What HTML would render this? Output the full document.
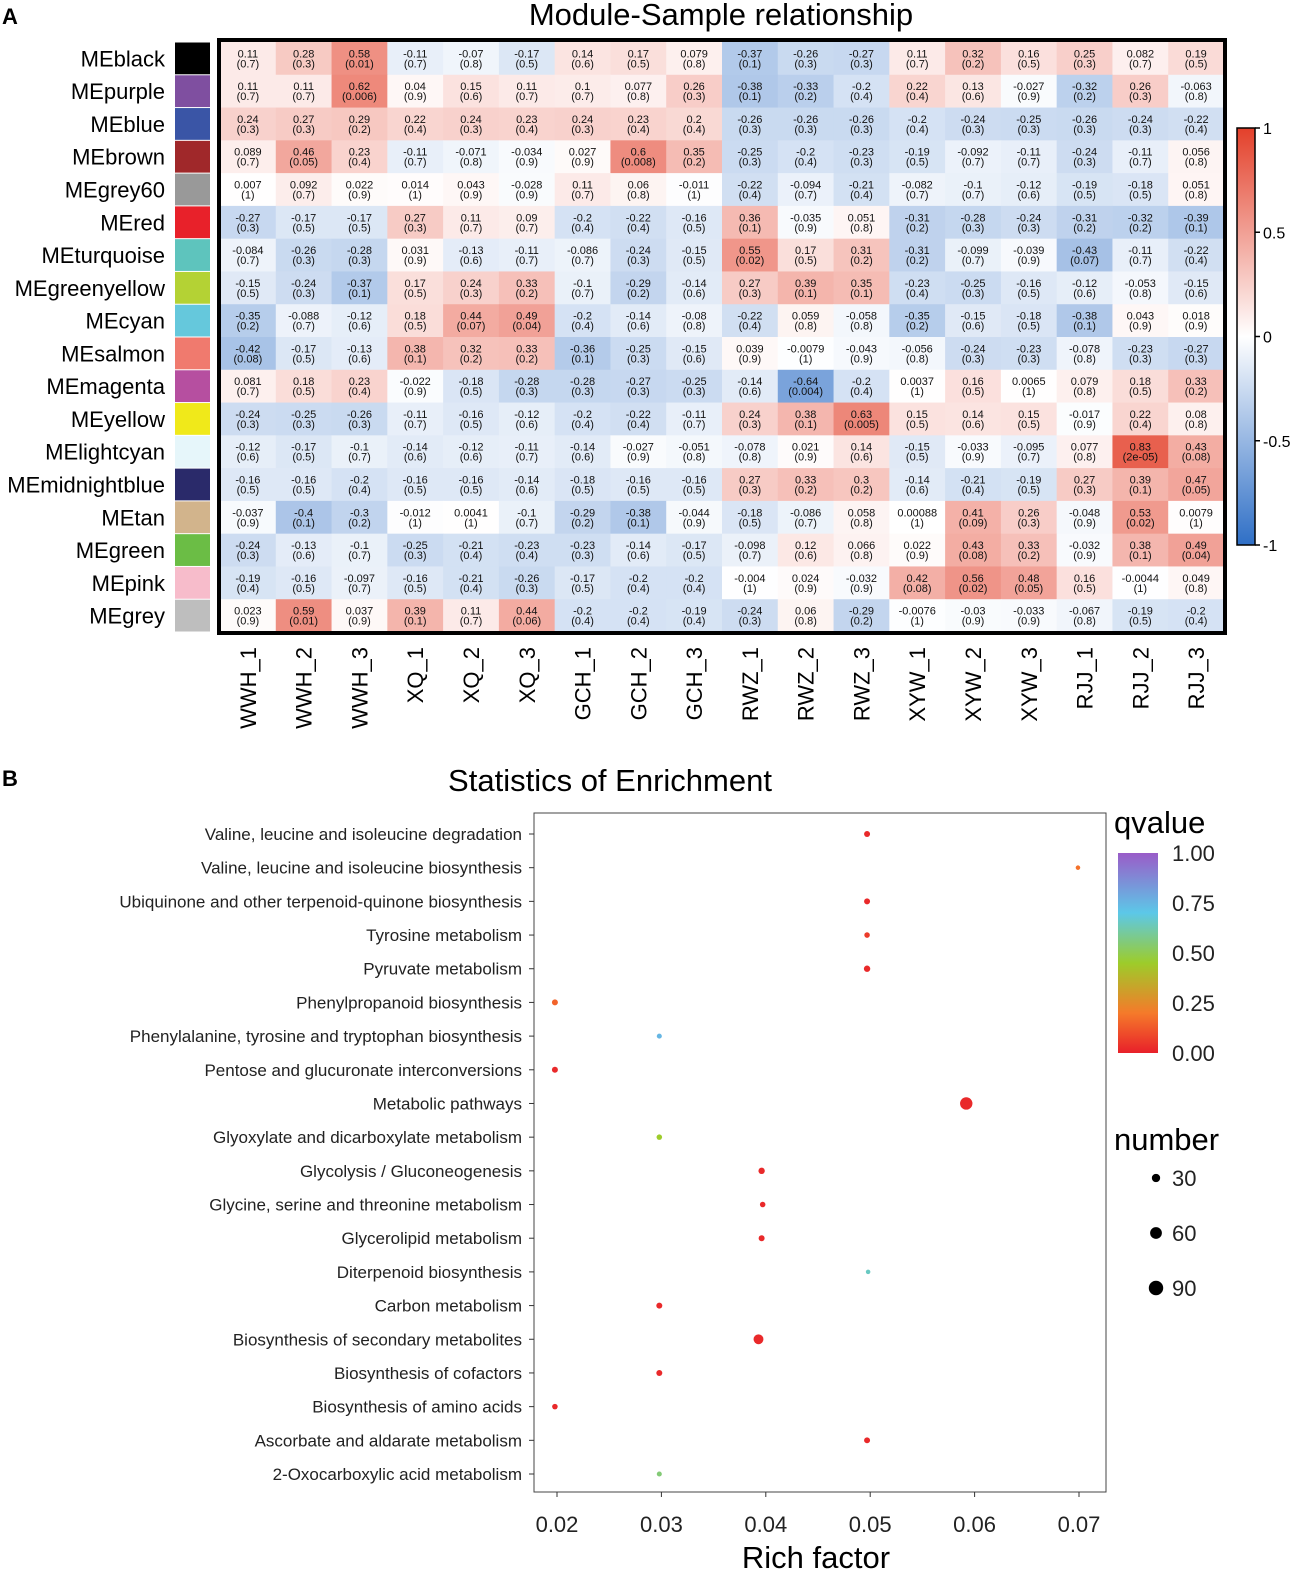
<!DOCTYPE html>
<html><head><meta charset="utf-8">
<style>
body{margin:0;background:#fff;width:1299px;height:1578px;overflow:hidden;font-family:"Liberation Sans",Arial,sans-serif;}
svg text{font-family:"Liberation Sans",Arial,sans-serif;}
</style></head>
<body>
<svg id="fig" width="1299" height="1578" xmlns="http://www.w3.org/2000/svg">
<defs>
<linearGradient id="hmGrad" x1="0" y1="1" x2="0" y2="0">
<stop offset="0" stop-color="#2f6fc6"/><stop offset="0.5" stop-color="#ffffff"/><stop offset="1" stop-color="#e3402a"/>
</linearGradient>
<linearGradient id="qGrad" x1="0" y1="1" x2="0" y2="0">
<stop offset="0" stop-color="#e8202a"/><stop offset="0.2" stop-color="#f57a2a"/><stop offset="0.45" stop-color="#9dcc2a"/><stop offset="0.7" stop-color="#5cc8e8"/><stop offset="1" stop-color="#9a5cc8"/>
</linearGradient>
</defs>
<g id="panelA"></g>
<g id="panelB"></g>
</svg>
<script>
const modules=["MEblack","MEpurple","MEblue","MEbrown","MEgrey60","MEred","MEturquoise","MEgreenyellow","MEcyan","MEsalmon","MEmagenta","MEyellow","MElightcyan","MEmidnightblue","MEtan","MEgreen","MEpink","MEgrey"];
const moduleColors=["#000000","#7f4fa0","#3a55a6","#a0282a","#999999","#e8212a","#5ec4bd","#b4d234","#65c8dc","#f07a6e","#b64fa0","#f0e91a","#e6f6fa","#2a2a6a","#d2b48c","#6bbd45","#f7bccb","#bebebe"];
const samples=["WWH_1","WWH_2","WWH_3","XQ_1","XQ_2","XQ_3","GCH_1","GCH_2","GCH_3","RWZ_1","RWZ_2","RWZ_3","XYW_1","XYW_2","XYW_3","RJJ_1","RJJ_2","RJJ_3"];
const corr=[
[0.11,0.28,0.58,-0.11,-0.07,-0.17,0.14,0.17,0.079,-0.37,-0.26,-0.27,0.11,0.32,0.16,0.25,0.082,0.19],
[0.11,0.11,0.62,0.04,0.15,0.11,0.1,0.077,0.26,-0.38,-0.33,-0.2,0.22,0.13,-0.027,-0.32,0.26,-0.063],
[0.24,0.27,0.29,0.22,0.24,0.23,0.24,0.23,0.2,-0.26,-0.26,-0.26,-0.2,-0.24,-0.25,-0.26,-0.24,-0.22],
[0.089,0.46,0.23,-0.11,-0.071,-0.034,0.027,0.6,0.35,-0.25,-0.2,-0.23,-0.19,-0.092,-0.11,-0.24,-0.11,0.056],
[0.007,0.092,0.022,0.014,0.043,-0.028,0.11,0.06,-0.011,-0.22,-0.094,-0.21,-0.082,-0.1,-0.12,-0.19,-0.18,0.051],
[-0.27,-0.17,-0.17,0.27,0.11,0.09,-0.2,-0.22,-0.16,0.36,-0.035,0.051,-0.31,-0.28,-0.24,-0.31,-0.32,-0.39],
[-0.084,-0.26,-0.28,0.031,-0.13,-0.11,-0.086,-0.24,-0.15,0.55,0.17,0.31,-0.31,-0.099,-0.039,-0.43,-0.11,-0.22],
[-0.15,-0.24,-0.37,0.17,0.24,0.33,-0.1,-0.29,-0.14,0.27,0.39,0.35,-0.23,-0.25,-0.16,-0.12,-0.053,-0.15],
[-0.35,-0.088,-0.12,0.18,0.44,0.49,-0.2,-0.14,-0.08,-0.22,0.059,-0.058,-0.35,-0.15,-0.18,-0.38,0.043,0.018],
[-0.42,-0.17,-0.13,0.38,0.32,0.33,-0.36,-0.25,-0.15,0.039,-0.0079,-0.043,-0.056,-0.24,-0.23,-0.078,-0.23,-0.27],
[0.081,0.18,0.23,-0.022,-0.18,-0.28,-0.28,-0.27,-0.25,-0.14,-0.64,-0.2,0.0037,0.16,0.0065,0.079,0.18,0.33],
[-0.24,-0.25,-0.26,-0.11,-0.16,-0.12,-0.2,-0.22,-0.11,0.24,0.38,0.63,0.15,0.14,0.15,-0.017,0.22,0.08],
[-0.12,-0.17,-0.1,-0.14,-0.12,-0.11,-0.14,-0.027,-0.051,-0.078,0.021,0.14,-0.15,-0.033,-0.095,0.077,0.83,0.43],
[-0.16,-0.16,-0.2,-0.16,-0.16,-0.14,-0.18,-0.16,-0.16,0.27,0.33,0.3,-0.14,-0.21,-0.19,0.27,0.39,0.47],
[-0.037,-0.4,-0.3,-0.012,0.0041,-0.1,-0.29,-0.38,-0.044,-0.18,-0.086,0.058,0.00088,0.41,0.26,-0.048,0.53,0.0079],
[-0.24,-0.13,-0.1,-0.25,-0.21,-0.23,-0.23,-0.14,-0.17,-0.098,0.12,0.066,0.022,0.43,0.33,-0.032,0.38,0.49],
[-0.19,-0.16,-0.097,-0.16,-0.21,-0.26,-0.17,-0.2,-0.2,-0.004,0.024,-0.032,0.42,0.56,0.48,0.16,-0.0044,0.049],
[0.023,0.59,0.037,0.39,0.11,0.44,-0.2,-0.2,-0.19,-0.24,0.06,-0.29,-0.0076,-0.03,-0.033,-0.067,-0.19,-0.2]];
const pvals=[
["0.7","0.3","0.01","0.7","0.8","0.5","0.6","0.5","0.8","0.1","0.3","0.3","0.7","0.2","0.5","0.3","0.7","0.5"],
["0.7","0.7","0.006","0.9","0.6","0.7","0.7","0.8","0.3","0.1","0.2","0.4","0.4","0.6","0.9","0.2","0.3","0.8"],
["0.3","0.3","0.2","0.4","0.3","0.4","0.3","0.4","0.4","0.3","0.3","0.3","0.4","0.3","0.3","0.3","0.3","0.4"],
["0.7","0.05","0.4","0.7","0.8","0.9","0.9","0.008","0.2","0.3","0.4","0.3","0.5","0.7","0.7","0.3","0.7","0.8"],
["1","0.7","0.9","1","0.9","0.9","0.7","0.8","1","0.4","0.7","0.4","0.7","0.7","0.6","0.5","0.5","0.8"],
["0.3","0.5","0.5","0.3","0.7","0.7","0.4","0.4","0.5","0.1","0.9","0.8","0.2","0.3","0.3","0.2","0.2","0.1"],
["0.7","0.3","0.3","0.9","0.6","0.7","0.7","0.3","0.5","0.02","0.5","0.2","0.2","0.7","0.9","0.07","0.7","0.4"],
["0.5","0.3","0.1","0.5","0.3","0.2","0.7","0.2","0.6","0.3","0.1","0.1","0.4","0.3","0.5","0.6","0.8","0.6"],
["0.2","0.7","0.6","0.5","0.07","0.04","0.4","0.6","0.8","0.4","0.8","0.8","0.2","0.6","0.5","0.1","0.9","0.9"],
["0.08","0.5","0.6","0.1","0.2","0.2","0.1","0.3","0.6","0.9","1","0.9","0.8","0.3","0.3","0.8","0.3","0.3"],
["0.7","0.5","0.4","0.9","0.5","0.3","0.3","0.3","0.3","0.6","0.004","0.4","1","0.5","1","0.8","0.5","0.2"],
["0.3","0.3","0.3","0.7","0.5","0.6","0.4","0.4","0.7","0.3","0.1","0.005","0.5","0.6","0.5","0.9","0.4","0.8"],
["0.6","0.5","0.7","0.6","0.6","0.7","0.6","0.9","0.8","0.8","0.9","0.6","0.5","0.9","0.7","0.8","2e-05","0.08"],
["0.5","0.5","0.4","0.5","0.5","0.6","0.5","0.5","0.5","0.3","0.2","0.2","0.6","0.4","0.5","0.3","0.1","0.05"],
["0.9","0.1","0.2","1","1","0.7","0.2","0.1","0.9","0.5","0.7","0.8","1","0.09","0.3","0.9","0.02","1"],
["0.3","0.6","0.7","0.3","0.4","0.4","0.3","0.6","0.5","0.7","0.6","0.8","0.9","0.08","0.2","0.9","0.1","0.04"],
["0.4","0.5","0.7","0.5","0.4","0.3","0.5","0.4","0.4","1","0.9","0.9","0.08","0.02","0.05","0.5","1","0.8"],
["0.9","0.01","0.9","0.1","0.7","0.06","0.4","0.4","0.4","0.3","0.8","0.2","1","0.9","0.9","0.8","0.5","0.4"]];
const cbTicks=[1,0.5,0,-0.5,-1];

const pathways=["Valine, leucine and isoleucine degradation","Valine, leucine and isoleucine biosynthesis","Ubiquinone and other terpenoid-quinone biosynthesis","Tyrosine metabolism","Pyruvate metabolism","Phenylpropanoid biosynthesis","Phenylalanine, tyrosine and tryptophan biosynthesis","Pentose and glucuronate interconversions","Metabolic pathways","Glyoxylate and dicarboxylate metabolism","Glycolysis / Gluconeogenesis","Glycine, serine and threonine metabolism","Glycerolipid metabolism","Diterpenoid biosynthesis","Carbon metabolism","Biosynthesis of secondary metabolites","Biosynthesis of cofactors","Biosynthesis of amino acids","Ascorbate and aldarate metabolism","2-Oxocarboxylic acid metabolism"];
const richFactor=[0.0497,0.0699,0.0497,0.0497,0.0497,0.0198,0.0298,0.0198,0.0592,0.0298,0.0396,0.0397,0.0396,0.0498,0.0298,0.0393,0.0298,0.0198,0.0497,0.0298];
const qvalue=[0.02,0.18,0.02,0.06,0.02,0.15,0.75,0.02,0.02,0.45,0.02,0.02,0.02,0.65,0.02,0.02,0.02,0.02,0.02,0.55];
const geneNumber=[14,8,14,12,16,14,10,14,60,12,16,12,14,8,14,38,14,12,14,10];
const xTicks=[0.02,0.03,0.04,0.05,0.06,0.07];
const qTicks=[1.00,0.75,0.50,0.25,0.00];
const sizeTicks=[30,60,90];

const NS="http://www.w3.org/2000/svg";
function mk(tag,attrs,parent,txt){const e=document.createElementNS(NS,tag);for(const k in attrs)e.setAttribute(k,attrs[k]);if(txt!==undefined)e.textContent=txt;parent.appendChild(e);return e;}
function lerp(a,b,t){return Math.round(a+(b-a)*t);}
function corrColor(v){
  if(v>=0){return `rgb(${lerp(255,227,v)},${lerp(255,64,v)},${lerp(255,42,v)})`;}
  const t=-v;return `rgb(${lerp(255,47,t)},${lerp(255,111,t)},${lerp(255,198,t)})`;
}
const A=document.getElementById('panelA');
const hx0=220,hy0=42,hw=1004,hh=590;
const cw=hw/samples.length,ch=hh/modules.length;
const colX=i=>hx0+i*cw, rowY=j=>hy0+j*ch;
let t;
t=mk('text',{x:2,y:24,'font-size':22,'font-weight':'bold'},A,'A');

t=mk('text',{x:721,y:25,'font-size':31,'text-anchor':'middle'},A,'Module-Sample relationship');

for(let j=0;j<modules.length;j++){
  t=mk('text',{x:165,y:rowY(j)+ch/2+8,'font-size':22,'text-anchor':'end'},A,modules[j]);
  
  const sw=mk('rect',{x:175,y:rowY(j)+0.5,width:35,height:ch-1,fill:moduleColors[j]},A);
  
  for(let i=0;i<samples.length;i++){
    const v=corr[j][i];
    const c=mk('rect',{x:colX(i),y:rowY(j),width:cw+0.5,height:ch+0.5,fill:corrColor(v)},A);
    
    const cx=colX(i)+cw/2,cy=rowY(j)+ch/2;
    const l1=mk('text',{x:cx,y:cy-1,'font-size':11,'text-anchor':'middle',fill:'#111'},A,String(v));
    
    const l2=mk('text',{x:cx,y:cy+9,'font-size':11,'text-anchor':'middle',fill:'#111'},A,'('+pvals[j][i]+')');
    
  }
}
const fr=mk('rect',{x:hx0-1,y:hy0-2,width:hw+2,height:hh+3,fill:'none',stroke:'#000','stroke-width':4},A);

for(let i=0;i<samples.length;i++){
  const cx=colX(i)+cw/2+8;
  t=mk('text',{x:0,y:0,'font-size':22,'text-anchor':'end',transform:`translate(${cx},647) rotate(-90)`},A,samples[i]);
  
}
const cbx=1237,cby0=128,cbh=417;
const cb=mk('rect',{x:cbx,y:cby0,width:18,height:cbh,fill:'url(#hmGrad)',stroke:'#000','stroke-width':1.5},A);

cbTicks.forEach(v=>{
  const y=cby0+(1-v)/2*cbh;
  mk('line',{x1:cbx+18,x2:cbx+23,y1:y,y2:y,stroke:'#000','stroke-width':1.5},A);
  t=mk('text',{x:cbx+26,y:y+6,'font-size':16},A,String(v));
  
});
const B=document.getElementById('panelB');
const px0=534,py0=813,px1=1106,py1=1492;
const xS=v=>557+(v-0.02)/0.05*(1079-557);
const yS=k=>834+k*(1474-834)/(pathways.length-1);
const rS=n=>0.8*Math.sqrt(n);
function qColor(q){
  const st=[[0,[232,32,42]],[0.2,[245,122,42]],[0.45,[157,204,42]],[0.7,[92,200,232]],[1,[154,92,200]]];
  for(let k=1;k<st.length;k++){if(q<=st[k][0]){const a=st[k-1],b=st[k];const tt=(q-a[0])/(b[0]-a[0]);return `rgb(${lerp(a[1][0],b[1][0],tt)},${lerp(a[1][1],b[1][1],tt)},${lerp(a[1][2],b[1][2],tt)})`;}}
  return 'rgb(154,92,200)';
}
t=mk('text',{x:2,y:786,'font-size':22,'font-weight':'bold'},B,'B');

t=mk('text',{x:610,y:791,'font-size':31,'text-anchor':'middle'},B,'Statistics of Enrichment');

const pb=mk('rect',{x:px0,y:py0,width:px1-px0,height:py1-py0,fill:'#fff',stroke:'#444','stroke-width':1},B);

pathways.forEach((p,k)=>{
  const y=yS(k);
  mk('line',{x1:px0-5,x2:px0,y1:y,y2:y,stroke:'#333'},B);
  t=mk('text',{x:px0-12,y:y+6,'font-size':17,'text-anchor':'end',fill:'#222'},B,p);
  
  const d=mk('circle',{cx:xS(richFactor[k]),cy:y,r:rS(geneNumber[k]),fill:qColor(qvalue[k])},B);
  
});
xTicks.forEach(v=>{
  const x=xS(v);
  mk('line',{x1:x,x2:x,y1:py1,y2:py1+5,stroke:'#333'},B);
  t=mk('text',{x:x,y:1532,'font-size':22,'text-anchor':'middle',fill:'#222'},B,v.toFixed(2));
  
});
t=mk('text',{x:816,y:1568,'font-size':31,'text-anchor':'middle'},B,'Rich factor');

t=mk('text',{x:1114,y:833,'font-size':31},B,'qvalue');

const qg=mk('rect',{x:1118,y:853,width:40,height:200,fill:'url(#qGrad)'},B);

qTicks.forEach(v=>{
  const y=853+(1-v)*200;
  t=mk('text',{x:1172,y:y+8,'font-size':22,fill:'#222'},B,v.toFixed(2));
  
});
t=mk('text',{x:1114,y:1150,'font-size':31},B,'number');

sizeTicks.forEach((n,k)=>{
  const y=1178+k*55;
  const c=mk('circle',{cx:1156,cy:y,r:rS(n)*0.95,fill:'#000'},B);
  
  t=mk('text',{x:1172,y:y+8,'font-size':22,fill:'#222'},B,String(n));
  
});
</script>
</body></html>
